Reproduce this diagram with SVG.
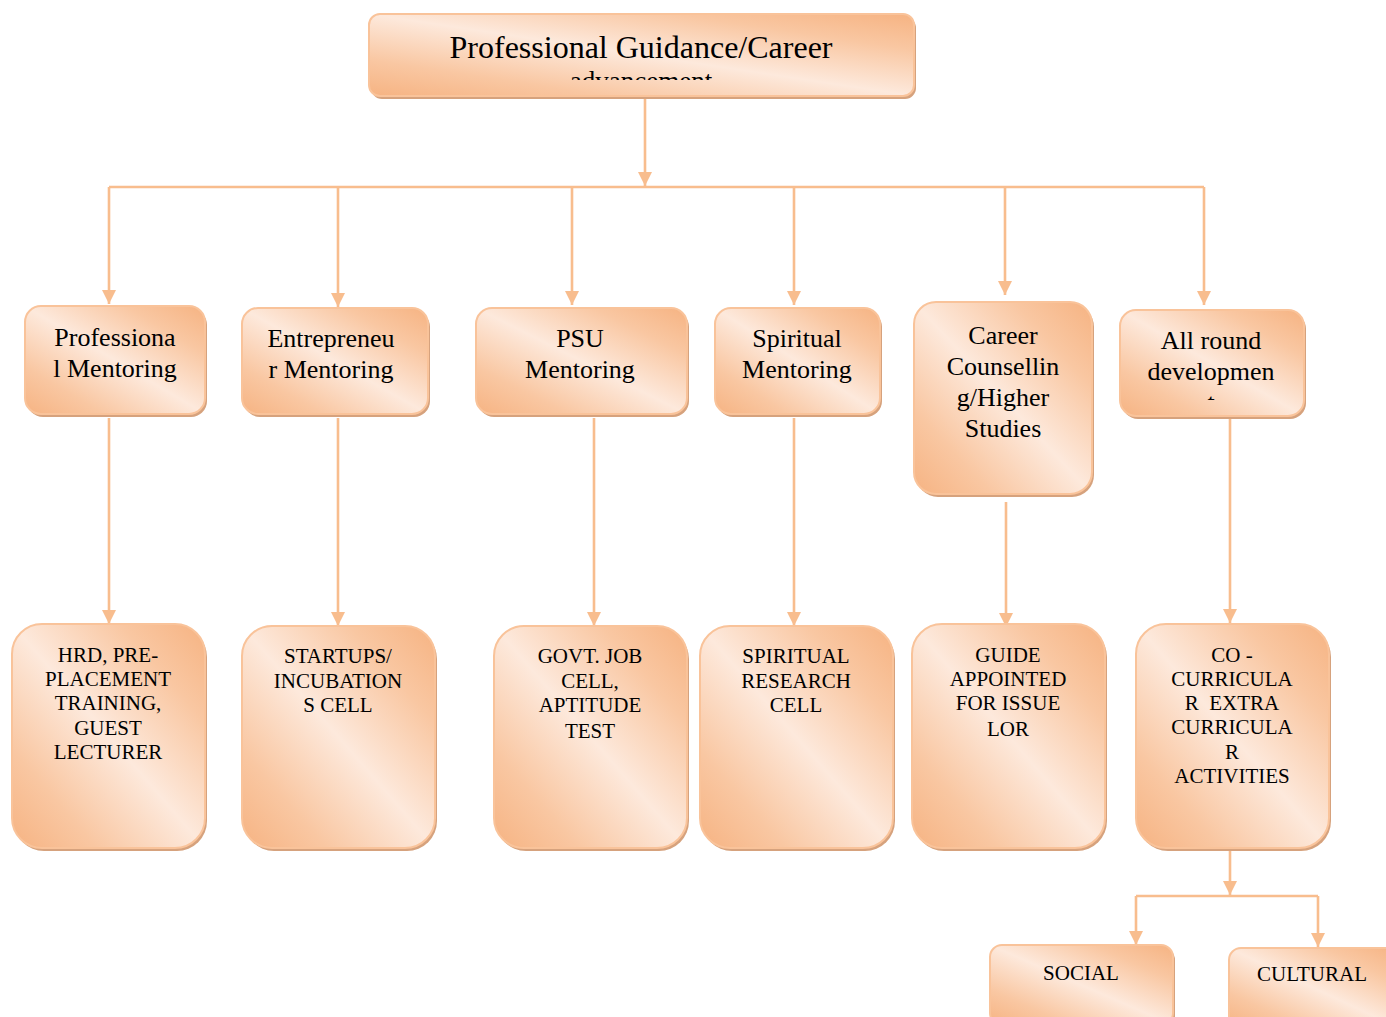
<svg xmlns="http://www.w3.org/2000/svg" width="1386" height="1017" viewBox="0 0 1386 1017">
<defs>
<linearGradient id="g" x1="1" y1="0" x2="0" y2="1">
<stop offset="0" stop-color="#f6b382"/>
<stop offset="0.22" stop-color="#f9c7a2"/>
<stop offset="0.5" stop-color="#fde9dc"/>
<stop offset="0.78" stop-color="#f9c7a2"/>
<stop offset="1" stop-color="#f6b382"/>
</linearGradient>
<marker id="ar" markerUnits="userSpaceOnUse" markerWidth="16" markerHeight="16" refX="14" refY="7" orient="auto">
<path d="M0,0 L14,7 L0,14 Z" fill="#f8bd8e"/>
</marker>
<clipPath id="ctop"><rect x="369" y="14" width="545" height="66"/></clipPath>
<clipPath id="call"><rect x="1120" y="310" width="184" height="90"/></clipPath>
</defs>
<style>
.sh{fill:#d6a27d}
.bx{fill:url(#g);stroke:#f9c39a;stroke-width:2}
.t{font-family:"Liberation Serif","Times New Roman",serif;fill:#000;text-anchor:middle}
.l2{font-size:26px}
.l3{font-size:21px}
.c{fill:none;stroke:#f8bd8e;stroke-width:2.6}
</style>
<rect width="1386" height="1017" fill="#fff"/>

<g id="connectors">
<path class="c" d="M645 97 V186" marker-end="url(#ar)"/>
<path class="c" d="M109 187 H1204"/>
<path class="c" d="M109 187 V304" marker-end="url(#ar)"/>
<path class="c" d="M338 187 V307" marker-end="url(#ar)"/>
<path class="c" d="M572 187 V305" marker-end="url(#ar)"/>
<path class="c" d="M794 187 V305" marker-end="url(#ar)"/>
<path class="c" d="M1005 187 V295" marker-end="url(#ar)"/>
<path class="c" d="M1204 187 V305" marker-end="url(#ar)"/>
<path class="c" d="M109 418 V624" marker-end="url(#ar)"/>
<path class="c" d="M338 418 V626" marker-end="url(#ar)"/>
<path class="c" d="M594 418 V626" marker-end="url(#ar)"/>
<path class="c" d="M794 418 V626" marker-end="url(#ar)"/>
<path class="c" d="M1006 502 V627" marker-end="url(#ar)"/>
<path class="c" d="M1230 418 V623" marker-end="url(#ar)"/>
<path class="c" d="M1230 851 V895" marker-end="url(#ar)"/>
<path class="c" d="M1136 896 H1318"/>
<path class="c" d="M1136 896 V945" marker-end="url(#ar)"/>
<path class="c" d="M1318 896 V947" marker-end="url(#ar)"/>
</g>

<g id="top">
<rect class="sh" x="371" y="17" width="545" height="82" rx="11"/>
<rect class="bx" x="369" y="14" width="545" height="82" rx="11"/>
<g clip-path="url(#ctop)">
<text class="t" x="641" y="58" font-size="32">Professional Guidance/Career</text>
<text class="t" x="641" y="90" font-size="27">advancement</text>
</g>
</g>

<g id="n-professional">
<rect class="sh" x="27" y="309" width="180" height="108" rx="16"/>
<rect class="bx" x="25" y="306" width="180" height="108" rx="16"/>
<text class="t l2" x="115" y="346">Professiona</text>
<text class="t l2" x="115" y="377">l Mentoring</text>
</g>

<g id="n-entrepreneur">
<rect class="sh" x="244" y="311" width="186" height="106" rx="16"/>
<rect class="bx" x="242" y="308" width="186" height="106" rx="16"/>
<text class="t l2" x="331" y="347">Entrepreneu</text>
<text class="t l2" x="331" y="378">r Mentoring</text>
</g>

<g id="n-psu">
<rect class="sh" x="478" y="311" width="211" height="106" rx="16"/>
<rect class="bx" x="476" y="308" width="211" height="106" rx="16"/>
<text class="t l2" x="580" y="347">PSU</text>
<text class="t l2" x="580" y="378">Mentoring</text>
</g>

<g id="n-spiritual">
<rect class="sh" x="717" y="311" width="165" height="106" rx="16"/>
<rect class="bx" x="715" y="308" width="165" height="106" rx="16"/>
<text class="t l2" x="797" y="347">Spiritual</text>
<text class="t l2" x="797" y="378">Mentoring</text>
</g>

<g id="n-career">
<rect class="sh" x="916" y="305" width="178" height="192" rx="22"/>
<rect class="bx" x="914" y="302" width="178" height="192" rx="22"/>
<text class="t l2" x="1003" y="344">Career</text>
<text class="t l2" x="1003" y="375">Counsellin</text>
<text class="t l2" x="1003" y="406">g/Higher</text>
<text class="t l2" x="1003" y="437">Studies</text>
</g>

<g id="n-allround">
<rect class="sh" x="1122" y="313" width="184" height="106" rx="16"/>
<rect class="bx" x="1120" y="310" width="184" height="106" rx="16"/>
<g clip-path="url(#call)">
<text class="t l2" x="1211" y="349">All round</text>
<text class="t l2" x="1211" y="380">developmen</text>
<text class="t l2" x="1211" y="411">t</text>
</g>
</g>

<g id="n-hrd">
<rect class="sh" x="14" y="627" width="193" height="224" rx="30"/>
<rect class="bx" x="12" y="624" width="193" height="224" rx="30"/>
<text class="t l3" x="108" y="662">HRD, PRE-</text>
<text class="t l3" x="108" y="686">PLACEMENT</text>
<text class="t l3" x="108" y="710">TRAINING,</text>
<text class="t l3" x="108" y="735">GUEST</text>
<text class="t l3" x="108" y="759">LECTURER</text>
</g>

<g id="n-startups">
<rect class="sh" x="244" y="629" width="193" height="222" rx="30"/>
<rect class="bx" x="242" y="626" width="193" height="222" rx="30"/>
<text class="t l3" x="338" y="663" fill="#2a2a2a">STARTUPS/</text>
<text class="t l3" x="338" y="688" fill="#2a2a2a">INCUBATION</text>
<text class="t l3" x="338" y="712" fill="#2a2a2a">S CELL</text>
</g>

<g id="n-govt">
<rect class="sh" x="496" y="629" width="193" height="222" rx="30"/>
<rect class="bx" x="494" y="626" width="193" height="222" rx="30"/>
<text class="t l3" x="590" y="663">GOVT. JOB</text>
<text class="t l3" x="590" y="688">CELL,</text>
<text class="t l3" x="590" y="712">APTITUDE</text>
<text class="t l3" x="590" y="738">TEST</text>
</g>

<g id="n-spiritual-research">
<rect class="sh" x="702" y="629" width="193" height="222" rx="30"/>
<rect class="bx" x="700" y="626" width="193" height="222" rx="30"/>
<text class="t l3" x="796" y="663">SPIRITUAL</text>
<text class="t l3" x="796" y="688">RESEARCH</text>
<text class="t l3" x="796" y="712">CELL</text>
</g>

<g id="n-guide">
<rect class="sh" x="914" y="627" width="193" height="224" rx="30"/>
<rect class="bx" x="912" y="624" width="193" height="224" rx="30"/>
<text class="t l3" x="1008" y="662">GUIDE</text>
<text class="t l3" x="1008" y="686">APPOINTED</text>
<text class="t l3" x="1008" y="710">FOR ISSUE</text>
<text class="t l3" x="1008" y="736">LOR</text>
</g>

<g id="n-cocurricular">
<rect class="sh" x="1138" y="627" width="193" height="224" rx="30"/>
<rect class="bx" x="1136" y="624" width="193" height="224" rx="30"/>
<text class="t l3" x="1232" y="662">CO -</text>
<text class="t l3" x="1232" y="686">CURRICULA</text>
<text class="t l3" x="1232" y="710" xml:space="preserve">R  EXTRA</text>
<text class="t l3" x="1232" y="734">CURRICULA</text>
<text class="t l3" x="1232" y="759">R</text>
<text class="t l3" x="1232" y="783">ACTIVITIES</text>
</g>

<g id="n-social">
<rect class="sh" x="992" y="948" width="183" height="80" rx="12"/>
<rect class="bx" x="990" y="945" width="183" height="80" rx="12"/>
<text class="t l3" x="1081" y="980">SOCIAL</text>
</g>

<g id="n-cultural">
<rect class="sh" x="1231" y="951" width="170" height="80" rx="12"/>
<rect class="bx" x="1229" y="948" width="170" height="80" rx="12"/>
<text class="t l3" x="1312" y="981">CULTURAL</text>
</g>
</svg>
